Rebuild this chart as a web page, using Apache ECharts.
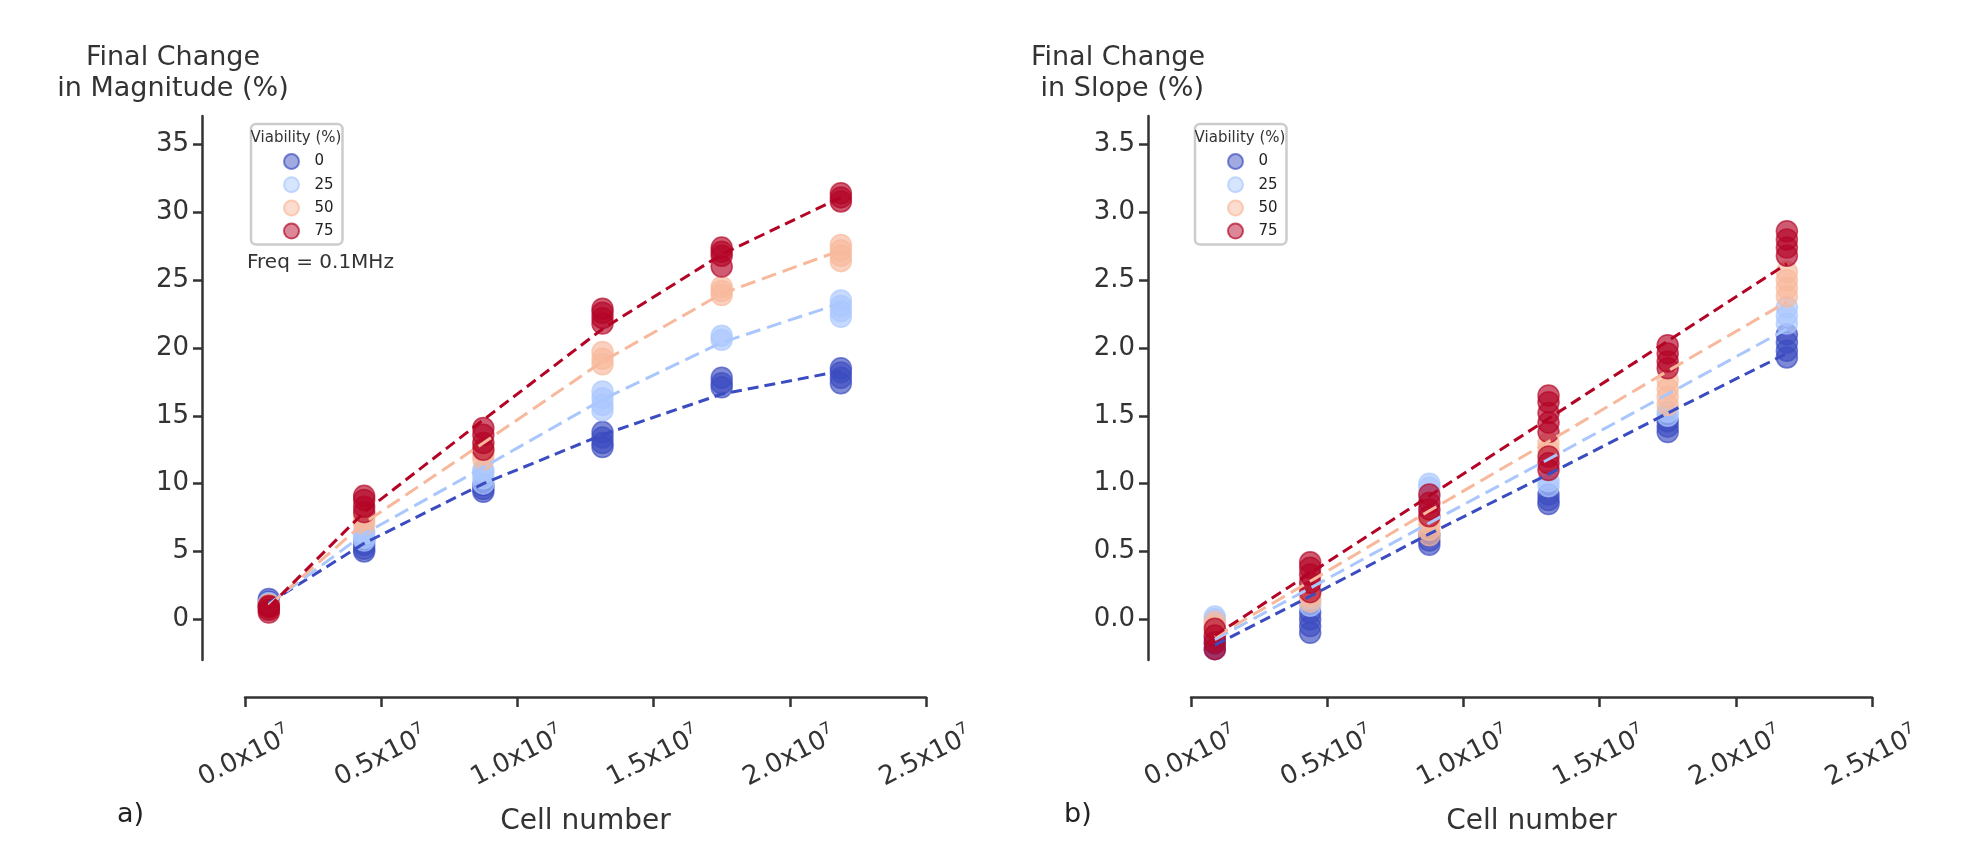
<!DOCTYPE html>
<html>
<head>
<meta charset="utf-8">
<script src="https://cdn.jsdelivr.net/npm/echarts@6/dist/echarts.min.js"></script>
<style>
html,body{margin:0;padding:0;background:#fff;}
#chart{width:1970px;height:858px;}
</style>
</head>
<body>
<div id="chart"></div>
<script>
// ---------------- DATA ----------------
const cellNumbers = [0.0875e7, 0.4375e7, 0.875e7, 1.3125e7, 1.75e7, 2.1875e7];
const viabilities = ['0', '25', '50', '75'];
const xTickLabels = ['0.0', '0.5', '1.0', '1.5', '2.0', '2.5'];
const magnitudeTicks = [0, 5, 10, 15, 20, 25, 30, 35];
const slopeTicks = [0.0, 0.5, 1.0, 1.5, 2.0, 2.5, 3.0, 3.5];

// Final change in magnitude (%) – replicate points per cell number
const magnitude_v0  = [[1.1, 1.3, 1.5], [5.0, 5.2, 5.5, 5.8], [9.4, 9.6, 9.9], [12.7, 13.0, 13.4, 13.8], [17.1, 17.4, 17.8], [17.4, 17.8, 18.2, 18.5]];
const magnitude_v25 = [[0.9, 1.1, 1.2], [5.8, 6.0, 6.3, 6.5], [10.0, 10.4, 10.8, 11.0], [15.4, 15.8, 16.3, 16.8], [20.6, 20.9], [22.3, 22.7, 23.1, 23.5]];
const magnitude_v50 = [[0.8, 1.0, 1.1], [7.0, 7.3, 7.6], [11.8, 12.2, 12.6], [18.8, 19.2, 19.7], [23.9, 24.2, 24.5], [26.4, 26.8, 27.2, 27.6]];
const magnitude_v75 = [[0.5, 0.7, 0.9, 1.0], [7.9, 8.3, 8.8, 9.1], [12.5, 13.0, 13.6, 14.1], [21.8, 22.2, 22.6, 22.9], [26.0, 26.8, 27.1, 27.4], [30.8, 31.1, 31.4]];
// fitted curves (dashed), read at each cell number
const magnitudeFit_v0  = [1.2, 5.6, 10.0, 13.6, 16.6, 18.3];
const magnitudeFit_v25 = [1.1, 6.3, 11.2, 16.2, 20.4, 23.3];
const magnitudeFit_v50 = [1.0, 7.1, 13.0, 19.0, 24.0, 27.2];
const magnitudeFit_v75 = [0.9, 7.9, 14.7, 21.4, 26.9, 31.1];

// Final change in slope (%)
const slope_v0  = [[-0.22, -0.18, -0.14], [-0.1, -0.05, 0.0, 0.05], [0.55, 0.58, 0.62], [0.85, 0.88, 0.92], [1.38, 1.42, 1.46], [1.93, 1.98, 2.04, 2.1]];
const slope_v25 = [[-0.05, 0.0, 0.02], [0.1, 0.15], [0.8, 0.9, 0.97, 1.0], [0.98, 1.02], [1.5, 1.53], [2.18, 2.24, 2.3]];
const slope_v50 = [[-0.1, -0.05, -0.02], [0.13, 0.17, 0.2], [0.62, 0.66, 0.7, 0.74], [1.25, 1.3], [1.58, 1.64, 1.7, 1.76], [2.38, 2.44, 2.5, 2.56]];
const slope_v75 = [[-0.22, -0.17, -0.12, -0.07], [0.2, 0.27, 0.33, 0.38, 0.42], [0.76, 0.81, 0.86, 0.92], [1.1, 1.15, 1.2, 1.38, 1.45, 1.52, 1.6, 1.65], [1.85, 1.9, 1.96, 2.02], [2.68, 2.74, 2.8, 2.86]];
const slopeFit_v0  = [-0.19, 0.17, 0.63, 1.07, 1.52, 1.96];
const slopeFit_v25 = [-0.15, 0.23, 0.71, 1.18, 1.66, 2.14];
const slopeFit_v50 = [-0.13, 0.28, 0.80, 1.31, 1.83, 2.34];
const slopeFit_v75 = [-0.12, 0.34, 0.91, 1.48, 2.05, 2.62];

// ---------------- STYLE ----------------
const rgb = [[59, 76, 192], [170, 199, 253], [247, 184, 156], [180, 4, 38]];
const dashes = [[11, 6], [15, 7], [15, 7], [11, 6]];
const FONT = 'DejaVu Sans';
const TXT = '#333333';

function rgba(c, a) { return 'rgba(' + c[0] + ',' + c[1] + ',' + c[2] + ',' + a + ')'; }

function scatterData(groups) {
  const out = [];
  groups.forEach((vals, i) => vals.forEach(v => out.push([cellNumbers[i], v])));
  return out;
}
function lineData(fit) { return cellNumbers.map((x, i) => [x, fit[i]]); }

const panels = [
  { pts: [magnitude_v0, magnitude_v25, magnitude_v50, magnitude_v75],
    fits: [magnitudeFit_v0, magnitudeFit_v25, magnitudeFit_v50, magnitudeFit_v75] },
  { pts: [slope_v0, slope_v25, slope_v50, slope_v75],
    fits: [slopeFit_v0, slopeFit_v25, slopeFit_v50, slopeFit_v75] }
];

const series = [];
panels.forEach((p, pi) => {
  p.pts.forEach((g, k) => {
    series.push({
      type: 'scatter', name: viabilities[k], xAxisIndex: pi, yAxisIndex: pi,
      data: scatterData(g), symbolSize: 21, z: 2,
      itemStyle: { color: rgba(rgb[k], 0.82), borderColor: rgba(rgb[k], 0.85), borderWidth: 1.5 }
    });
  });
});
panels.forEach((p, pi) => {
  p.fits.forEach((f, k) => {
    series.push({
      type: 'line', name: viabilities[k], xAxisIndex: pi, yAxisIndex: pi,
      data: lineData(f), showSymbol: false, symbol: 'none', z: 3, silent: true,
      lineStyle: { color: rgba(rgb[k], 1), width: 3, type: dashes[k] }
    });
  });
});

const gridLefts = [245, 1191];

function xAxisCfg(i) {
  return {
    type: 'value', gridIndex: i, min: 0, max: 2.5e7, interval: 0.5e7, offset: 37,
    axisLine: { show: true, onZero: false, lineStyle: { color: TXT, width: 2.5 } },
    axisTick: { show: true, length: 10, lineStyle: { color: TXT, width: 2.5 } },
    splitLine: { show: false },
    axisLabel: {
      rotate: 27, align: 'center', verticalAlign: 'middle', margin: 60, color: TXT,
      formatter: (v, idx) => '{m|' + xTickLabels[idx] + 'x10}{s|7}',
      rich: {
        m: { fontFamily: FONT, fontSize: 26, lineHeight: 32, color: TXT },
        s: { fontFamily: FONT, fontSize: 16, lineHeight: 32, verticalAlign: 'top', color: TXT }
      }
    },
    name: 'Cell number', nameLocation: 'middle', nameGap: 111,
    nameTextStyle: { fontFamily: FONT, fontSize: 28, color: TXT }
  };
}
function yAxisCfg(i, min, max, ticks, fmt) {
  return {
    type: 'value', gridIndex: i, min: min, max: max, offset: 43,
    axisLine: { show: true, onZero: false, lineStyle: { color: TXT, width: 2.5 } },
    axisTick: { show: true, length: 9, lineStyle: { color: TXT, width: 2.5 }, customValues: ticks },
    splitLine: { show: false },
    axisLabel: { customValues: ticks, margin: 13, color: TXT, fontFamily: FONT, fontSize: 26, formatter: fmt }
  };
}

function legendCfg(left) {
  return {
    orient: 'vertical', left: left, top: 124, z: 5,
    data: viabilities.map((n, k) => ({
      name: n, icon: 'circle',
      itemStyle: { color: rgba(rgb[k], 0.6), borderColor: rgba(rgb[k], 0.85), borderWidth: 2 }
    })),
    itemWidth: 36, itemHeight: 15, itemGap: 6.2,
    padding: [29, 6, 5, 32],
    borderColor: '#cccccc', borderWidth: 2.5, borderRadius: 5,
    backgroundColor: 'rgba(255,255,255,0.8)',
    textStyle: { fontFamily: FONT, fontSize: 15, lineHeight: 15, color: '#222', width: 22 },
    selectedMode: false
  };
}

const gtext = (x, y, text, size) => ({
  type: 'text', x: x, y: y, z: 100,
  style: { text: text, font: size + 'px "DejaVu Sans"', fill: TXT, align: 'center', verticalAlign: 'middle' }
});

const option = {
  animation: false,
  backgroundColor: '#ffffff',
  grid: [
    { left: gridLefts[0], top: 116, width: 681, height: 544 },
    { left: gridLefts[1], top: 116, width: 681, height: 544 }
  ],
  xAxis: [xAxisCfg(0), xAxisCfg(1)],
  yAxis: [
    yAxisCfg(0, -3, 37.1, magnitudeTicks, v => String(v)),
    yAxisCfg(1, -0.3, 3.71, slopeTicks, v => v.toFixed(1))
  ],
  legend: [legendCfg(251), legendCfg(1195)],
  graphic: [
    { type: 'text', x: 173, y: 42, z: 100, style: { text: 'Final Change\nin Magnitude (%)', font: '27px "DejaVu Sans"', fill: TXT, align: 'center', verticalAlign: 'top', lineHeight: 31 } },
    { type: 'text', x: 1118, y: 42, z: 100, style: { text: 'Final Change\n in Slope (%)', font: '27px "DejaVu Sans"', fill: TXT, align: 'center', verticalAlign: 'top', lineHeight: 31 } },
    gtext(296, 138, 'Viability (%)', 15),
    gtext(1240, 138, 'Viability (%)', 15),
    { type: 'text', x: 247, y: 263, z: 100, style: { text: 'Freq = 0.1MHz', font: '20px "DejaVu Sans"', fill: TXT, align: 'left', verticalAlign: 'middle' } },
    { type: 'text', x: 117, y: 815, z: 100, style: { text: 'a)', font: '27px "DejaVu Sans"', fill: '#222', align: 'left', verticalAlign: 'middle' } },
    { type: 'text', x: 1064, y: 815, z: 100, style: { text: 'b)', font: '27px "DejaVu Sans"', fill: '#222', align: 'left', verticalAlign: 'middle' } }
  ],
  series: series
};

const chart = echarts.init(document.getElementById('chart'), null, { renderer: 'canvas' });
chart.setOption(option);
</script>
</body>
</html>
